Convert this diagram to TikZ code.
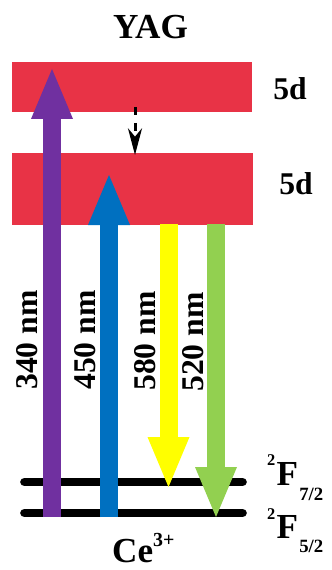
\documentclass[tikz,border=0pt]{standalone}
\usepackage{fontspec}
\setmainfont{Liberation Serif}
\usetikzlibrary{arrows.meta}
\definecolor{bandred}{RGB}{232,51,70}
\definecolor{uvpurple}{RGB}{112,48,160}
\definecolor{exblue}{RGB}{0,112,192}
\definecolor{emyellow}{RGB}{255,255,0}
\definecolor{emgreen}{RGB}{146,208,80}
\tikzset{
  band/.style={fill=bandred, draw=none, inner sep=0pt},
  lvline/.style={line width=0.26cm, line cap=round},
  fat/.style={line width=0.54cm, -{Triangle[width=1.26cm, length=1.5cm, line width=0pt]}},
  lbl/.style={font=\fontsize{27}{30}\selectfont\bfseries, inner sep=0pt},
  big/.style={font=\fontsize{30}{32}\selectfont\bfseries, inner sep=0pt},
}

\begin{document}
\begin{tikzpicture}[x=0.03cm, y=-0.03cm]
    \useasboundingbox (0,0) rectangle (331,570);

    % ---------------------------------------------------
    % 1. 5d bands of YAG
    % ---------------------------------------------------
    \node[band, minimum width=7.2cm, minimum height=1.5cm] (topband) at (132,87.5) {};
    \node[band, minimum width=7.23cm, minimum height=2.16cm] (lowband) at (132.5,189) {};

    % ---------------------------------------------------
    % 2. Ground levels 2F7/2 and 2F5/2
    % ---------------------------------------------------
    \coordinate (fsevenL) at (24.5,482);
    \coordinate (fsevenR) at (242.5,482);
    \coordinate (ffiveL) at (24.5,513);
    \coordinate (ffiveR) at (242.5,513);
    \draw[lvline] (fsevenL) -- (fsevenR);
    \draw[lvline] (ffiveL) -- (ffiveR);

    % ---------------------------------------------------
    % 3. Absorption and emission arrows
    % ---------------------------------------------------
    \coordinate (uvfoot) at (52,517);
    \coordinate (uvtip) at (52,69);
    \coordinate (bluefoot) at (109,517);
    \coordinate (bluetip) at (109,175);
    \coordinate (yellowtop) at (168.5,224);
    \coordinate (yellowtip) at (168.5,487);
    \coordinate (greentop) at (216,224);
    \coordinate (greentip) at (216,517);

    \draw[fat, uvpurple] (uvfoot) -- (uvtip);
    \draw[fat, exblue] (bluefoot) -- (bluetip);
    \draw[fat, emyellow] (yellowtop) -- (yellowtip);
    \draw[fat, emgreen] (greentop) -- (greentip);

    % relaxation between the 5d bands
    \coordinate (relaxtop) at (135,107);
    \coordinate (relaxtip) at (135,155);
    \draw[line width=0.09cm, dash pattern=on 0.24cm off 0.24cm,
          -{Stealth[width=0.42cm, length=0.8cm, inset=0.25cm]}] (relaxtop) -- (relaxtip);

    % ---------------------------------------------------
    % 4. Labels
    % ---------------------------------------------------
    \node[big, anchor=base] (yag) at (150.5,39) {YAG};
    \node[lbl, anchor=base] (topfived) at (290,100) {5d};
    \node[lbl, anchor=base] (lowfived) at (296,195) {5d};

    \node[lbl, anchor=base, rotate=90] (lbluv) at (37,340) {340 nm};
    \node[lbl, anchor=base, rotate=90] (lblblue) at (95,340) {450 nm};
    \node[lbl, anchor=base, rotate=90] (lblyellow) at (155,341) {580 nm};
    \node[lbl, anchor=base, rotate=90] (lblgreen) at (203,342) {520 nm};

    \node[big, anchor=base west] (fseven) at (267,485)
        {\raisebox{0.6cm}{\fontsize{14}{15}\selectfont 2}\kern1pt F\kern1pt\raisebox{-0.45cm}{\fontsize{16}{17}\selectfont 7/2}};
    \node[big, anchor=base west] (ffive) at (267,538)
        {\raisebox{0.56cm}{\fontsize{14}{15}\selectfont 2}\kern1pt F\kern1pt\raisebox{-0.42cm}{\fontsize{16}{17}\selectfont 5/2}};

    \node[big, anchor=base west] (ce) at (112,562)
        {Ce\raisebox{0.48cm}{\fontsize{17}{18}\selectfont 3+}};
\end{tikzpicture}
\end{document}
